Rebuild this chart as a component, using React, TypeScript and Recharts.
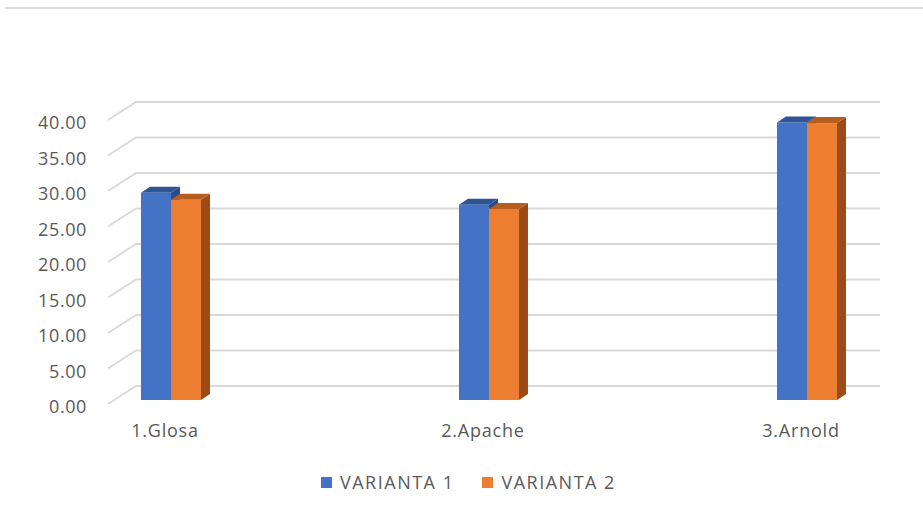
import React from "react";
import { BarChart, Bar, XAxis, YAxis, CartesianGrid, Legend } from "recharts";

const categories = ["1.Glosa", "2.Apache", "3.Arnold"];
const variant1 = [29.2, 27.5, 39.1];
const variant2 = [28.2, 26.9, 39.0];
const yTicks = [0, 5, 10, 15, 20, 25, 30, 35, 40];
const seriesNames = ["VARIANTA 1", "VARIANTA 2"];

const data = categories.map((c, i) => ({ idx: i, name: c, v1: variant1[i], v2: variant2[i] }));

const FONT = "'Open Sans', sans-serif";
const TEXT = "#595959";
const GRID = "#d9d9d9";
const DX = 9;
const DY = 6;

const make3D = (front: string, top: string, side: string) => (props: any) => {
  const { x, y, width, height } = props;
  if (height == null || height <= 0) return null;
  return (
    <g>
      <polygon
        points={`${x + width},${y} ${x + width + DX},${y - DY} ${x + width + DX},${y + height - DY} ${x + width},${y + height}`}
        fill={side}
      />
      <polygon
        points={`${x},${y} ${x + DX},${y - DY} ${x + width + DX},${y - DY} ${x + width},${y}`}
        fill={top}
      />
      <rect x={x} y={y} width={width} height={height} fill={front} />
    </g>
  );
};

const BlueShape = make3D("#4472C4", "#2F5597", "#2A4C86");
const OrangeShape = make3D("#ED7D31", "#B85D20", "#9C4B16");

const GridLine = (props: any) => {
  const { x1, x2, y1 } = props;
  return (
    <path
      d={`M${x1 - 6},${y1 + 4} L${x1 + 22},${y1 - 14} L${x2 + 22},${y1 - 14}`}
      stroke={GRID}
      strokeWidth={1.8}
      fill="none"
    />
  );
};

const YTick = (props: any) => {
  const { x, y, payload } = props;
  return (
    <text
      x={x}
      y={y + 6}
      textAnchor="end"
      dominantBaseline="central"
      fill={TEXT}
      fontFamily={FONT}
      fontSize={18}
      letterSpacing={0.6}
    >
      {Number(payload.value).toFixed(2)}
    </text>
  );
};

const XTick = (props: any) => {
  const { x, y, payload } = props;
  return (
    <text
      x={x - 6}
      y={y + 30}
      textAnchor="middle"
      dominantBaseline="central"
      fill={TEXT}
      fontFamily={FONT}
      fontSize={18}
      letterSpacing={0.8}
    >
      {categories[payload.value]}
    </text>
  );
};

const LegendContent = () => {
  const colors = ["#4472C4", "#ED7D31"];
  return (
    <div style={{ display: "flex", alignItems: "center", fontFamily: FONT, fontSize: 18, color: TEXT, letterSpacing: 1.5 }}>
      {seriesNames.map((n, i) => (
        <div key={n} style={{ display: "flex", alignItems: "center", marginRight: 28 }}>
          <span style={{ display: "inline-block", width: 11, height: 11, background: colors[i], marginRight: 8 }} />
          <span style={{ lineHeight: "20px" }}>{n}</span>
        </div>
      ))}
    </div>
  );
};

export default function App() {
  return (
    <div style={{ position: "absolute", left: 0, top: 0, width: 923, height: 514, background: "#fff" }}>
      <div style={{ position: "absolute", left: 5, top: 7, width: 918, height: 2, background: "#dcdcdc" }} />
      <BarChart
        width={923}
        height={514}
        data={data}
        margin={{ top: 116, right: 65, bottom: 84, left: 0 }}
        barGap={0}
      >
        <CartesianGrid vertical={false} horizontal={GridLine} />
        <XAxis
          dataKey="idx"
          type="number"
          domain={[-0.1792, 2.1604]}
          ticks={[0, 1, 2]}
          interval={0}
          axisLine={false}
          tickLine={false}
          tickSize={0}
          tickMargin={0}
          height={30}
          tick={<XTick />}
          allowDataOverflow
        />
        <YAxis
          domain={[0, 40]}
          ticks={yTicks}
          width={114}
          axisLine={false}
          tickLine={false}
          tickSize={0}
          tickMargin={27}
          tick={<YTick />}
        />
        <Legend
          layout="horizontal"
          verticalAlign="middle"
          align="center"
          content={<LegendContent />}
          wrapperStyle={{ left: 321, top: 472, width: 360, height: 20 }}
        />
        <Bar dataKey="v1" name={seriesNames[0]} fill="#4472C4" barSize={30} shape={BlueShape} isAnimationActive={false} />
        <Bar dataKey="v2" name={seriesNames[1]} fill="#ED7D31" barSize={30} shape={OrangeShape} isAnimationActive={false} />
      </BarChart>
    </div>
  );
}
